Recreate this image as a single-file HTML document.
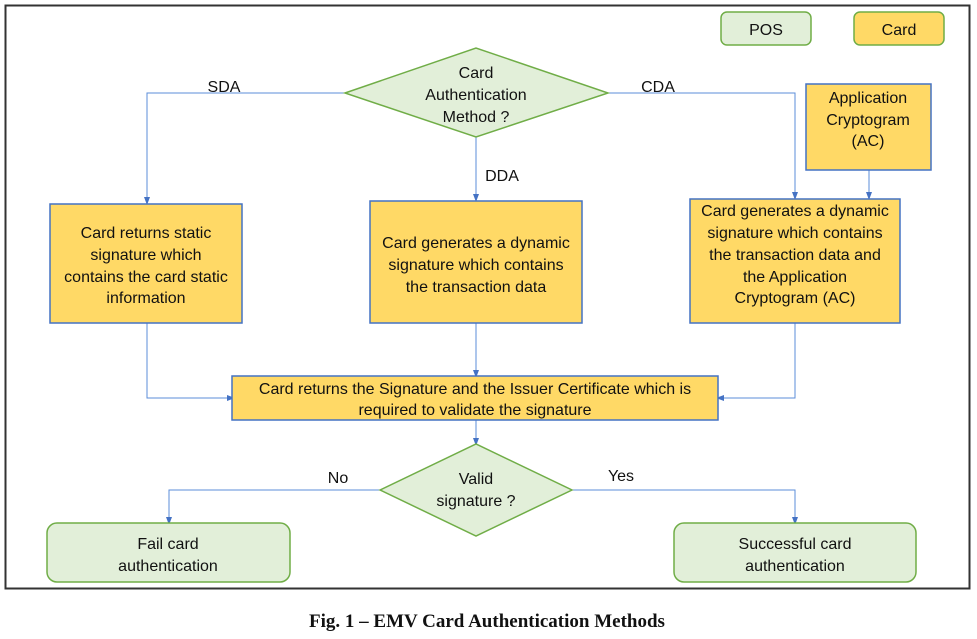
<!DOCTYPE html>
<html><head><meta charset="utf-8"><style>
html,body{margin:0;padding:0;background:#fff;}
svg{display:block;}
text{font-family:"Liberation Sans",sans-serif;font-size:16px;fill:#111;}
</style></head><body>
<svg width="977" height="639" viewBox="0 0 977 639" xmlns="http://www.w3.org/2000/svg">
<defs>
<marker id="a" markerWidth="8" markerHeight="8" refX="4" refY="4" orient="auto" markerUnits="userSpaceOnUse">
<path d="M0,1 L8,4 L0,7 z" fill="#4472c4"/></marker>
</defs>
<rect x="5.5" y="5.5" width="964" height="583" fill="#fff" stroke="#333" stroke-width="2"/>
<rect x="721" y="12" width="90" height="33" rx="6" fill="#e2efd9" stroke="#70ad47" stroke-width="1.5"/>
<text x="766" y="35" text-anchor="middle">POS</text>
<rect x="854" y="12" width="90" height="33" rx="6" fill="#ffd966" stroke="#70ad47" stroke-width="1.5"/>
<text x="899" y="35" text-anchor="middle">Card</text>
<g stroke="#5b8dd9" stroke-width="1" fill="none">
<polyline points="345,93 147,93 147,201" marker-end="url(#a)"/>
<polyline points="608,93 795,93 795,196" marker-end="url(#a)"/>
<polyline points="476,136 476,198" marker-end="url(#a)"/>
<polyline points="869,170 869,196" marker-end="url(#a)"/>
<polyline points="147,323 147,398 231,398" marker-end="url(#a)"/>
<polyline points="476,323 476,374" marker-end="url(#a)"/>
<polyline points="795,323 795,398 720,398" marker-end="url(#a)"/>
<polyline points="476,420 476,442" marker-end="url(#a)"/>
<polyline points="380,490 169,490 169,521" marker-end="url(#a)"/>
<polyline points="572,490 795,490 795,521" marker-end="url(#a)"/>
</g>
<polygon points="345,93 476,48 608,93 476,137" fill="#e2efd9" stroke="#70ad47" stroke-width="1.5"/>
<text x="476" y="78" text-anchor="middle">Card</text>
<text x="476" y="100" text-anchor="middle">Authentication</text>
<text x="476" y="122" text-anchor="middle">Method ?</text>
<text x="224" y="92" text-anchor="middle" font-size="17">SDA</text>
<text x="658" y="92" text-anchor="middle" font-size="17">CDA</text>
<text x="502" y="181" text-anchor="middle" font-size="17">DDA</text>
<g fill="#ffd966" stroke="#4472c4" stroke-width="1.5">
<rect x="50" y="204" width="192" height="119"/>
<rect x="370" y="201" width="212" height="122"/>
<rect x="806" y="84" width="125" height="86"/>
<rect x="690" y="199" width="210" height="124"/>
<rect x="232" y="376" width="486" height="44"/>
</g>
<g text-anchor="middle">
<text x="146" y="238">Card returns static</text>
<text x="146" y="260">signature which</text>
<text x="146" y="282">contains the card static</text>
<text x="146" y="303">information</text>
<text x="476" y="248">Card generates a dynamic</text>
<text x="476" y="270">signature which contains</text>
<text x="476" y="292">the transaction data</text>
<text x="868" y="103">Application</text>
<text x="868" y="125">Cryptogram</text>
<text x="868" y="146">(AC)</text>
<text x="795" y="216">Card generates a dynamic</text>
<text x="795" y="238">signature which contains</text>
<text x="795" y="260">the transaction data and</text>
<text x="795" y="282">the Application</text>
<text x="795" y="303">Cryptogram (AC)</text>
<text x="475" y="394">Card returns the Signature and  the Issuer Certificate which is</text>
<text x="475" y="415">required to validate the signature</text>
</g>
<polygon points="380,490 476,444 572,490 476,536" fill="#e2efd9" stroke="#70ad47" stroke-width="1.5"/>
<text x="476" y="484" text-anchor="middle">Valid</text>
<text x="476" y="506" text-anchor="middle">signature ?</text>
<text x="338" y="483" text-anchor="middle" font-size="17">No</text>
<text x="621" y="481" text-anchor="middle" font-size="17">Yes</text>
<rect x="47" y="523" width="243" height="59" rx="10" fill="#e2efd9" stroke="#70ad47" stroke-width="1.5"/>
<text x="168" y="549" text-anchor="middle">Fail card</text>
<text x="168" y="571" text-anchor="middle">authentication</text>
<rect x="674" y="523" width="242" height="59" rx="10" fill="#e2efd9" stroke="#70ad47" stroke-width="1.5"/>
<text x="795" y="549" text-anchor="middle">Successful card</text>
<text x="795" y="571" text-anchor="middle">authentication</text>
<text x="487" y="627" text-anchor="middle" style="font-family:'Liberation Serif',serif;font-weight:bold;font-size:19px;">Fig. 1 – EMV Card Authentication Methods</text>
</svg>
</body></html>
